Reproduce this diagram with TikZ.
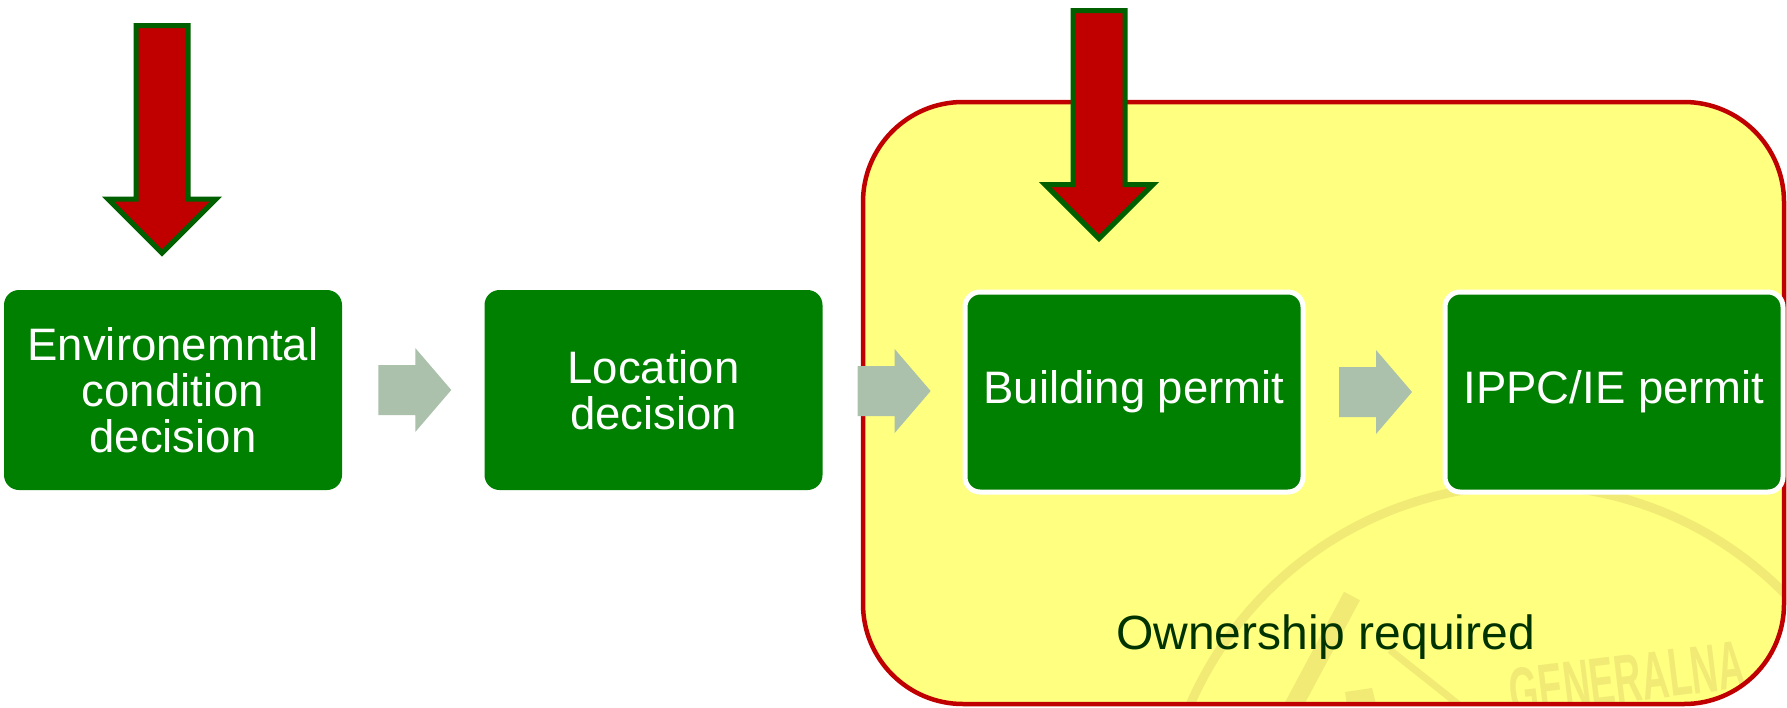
\documentclass[tikz,border=0pt]{standalone}
\usepackage{fontspec}
\setmainfont{Liberation Sans}
\usetikzlibrary{calc}
\definecolor{boxgreen}{RGB}{0,128,0}
\definecolor{arrred}{RGB}{192,0,0}
\definecolor{arrline}{RGB}{0,96,0}
\definecolor{panel}{RGB}{255,255,128}
\definecolor{panelline}{RGB}{192,0,0}
\definecolor{flowgray}{RGB}{171,193,171}
\definecolor{wm}{RGB}{241,235,118}
\definecolor{owntext}{RGB}{0,51,0}
\newcommand{\flowarrow}[2]{%
  \coordinate (m#1#2) at ($(#1.east)!0.5!(#2.west)$);
  \fill[flow] ($(m#1#2)+(-35,-25)$) -- ($(m#1#2)+(2,-25)$) -- ($(m#1#2)+(2,-42)$)
    -- ($(m#1#2)+(38,0)$) -- ($(m#1#2)+(2,42)$) -- ($(m#1#2)+(2,25)$)
    -- ($(m#1#2)+(-35,25)$) -- cycle;}
\newcommand{\redarrow}[3]{% center x, top y, wing y
  \draw[bigarrow] (#1-26,#2) -- (#1+26,#2) -- (#1+26,#3) -- (#1+54,#3)
    -- (#1,#3+54) -- (#1-54,#3) -- (#1-26,#3) -- cycle;}
\begin{document}
\begin{tikzpicture}[x=1pt,y=-1pt,
  stepbox/.style={rectangle, rounded corners=15pt, fill=boxgreen, text=white,
    minimum width=338pt, minimum height=200pt, inner sep=0pt, align=center,
    font=\fontsize{45.5}{46}\selectfont},
  framed/.style={draw=white, line width=5pt},
  flow/.style={fill=flowgray},
  bigarrow/.style={fill=arrred, draw=arrline, line width=5pt, miter limit=10},
  panelbox/.style={rounded corners=100pt},
]
\useasboundingbox (0,0) rectangle (1787,707);
\fill[white] (0,0) rectangle (1787,707);

% yellow panel with faint watermark
\fill[panel, panelbox] (863,102) rectangle (1784,704);
\begin{scope}
  \clip[panelbox] (863,102) rectangle (1784,704);
  \draw[wm, line width=9pt] (1525,850) circle[radius=365];
  \draw[wm, line width=18pt] (1352,596) -- (1290,712);
  \draw[wm, line width=7pt] (1390,650) -- (1468,712);
  \fill[wm] (1345,692) -- (1372,688) -- (1378,712) -- (1348,712) -- cycle;
  \node[wm, anchor=base, rotate=7, xscale=0.55, inner sep=0pt,
    font=\bfseries\fontsize{68}{68}\selectfont] (wmtext) at (1630,702) {GENERALNA};
\end{scope}
\draw[panelline, line width=4.5pt, panelbox] (863,102) rectangle (1784,704);

% step boxes
\node[stepbox] (env) at (173,390) {Environemntal\\condition\\decision};
\node[stepbox] (loc) at (653.5,390) {Location\\decision};
\node[stepbox, framed] (bld) at (1134,392) {Building permit};
\node[stepbox, framed] (ippc) at (1614,392) {IPPC/IE permit};

% flow arrows
\flowarrow{env}{loc}
\flowarrow{loc}{bld}
\flowarrow{bld}{ippc}

% red arrows
\redarrow{162}{25.5}{199}
\redarrow{1099}{10.5}{184.5}

\node[owntext, anchor=base, inner sep=0pt, font=\fontsize{48}{48}\selectfont]
  (own) at (1325.5,649) {Ownership required};
\end{tikzpicture}
\end{document}
